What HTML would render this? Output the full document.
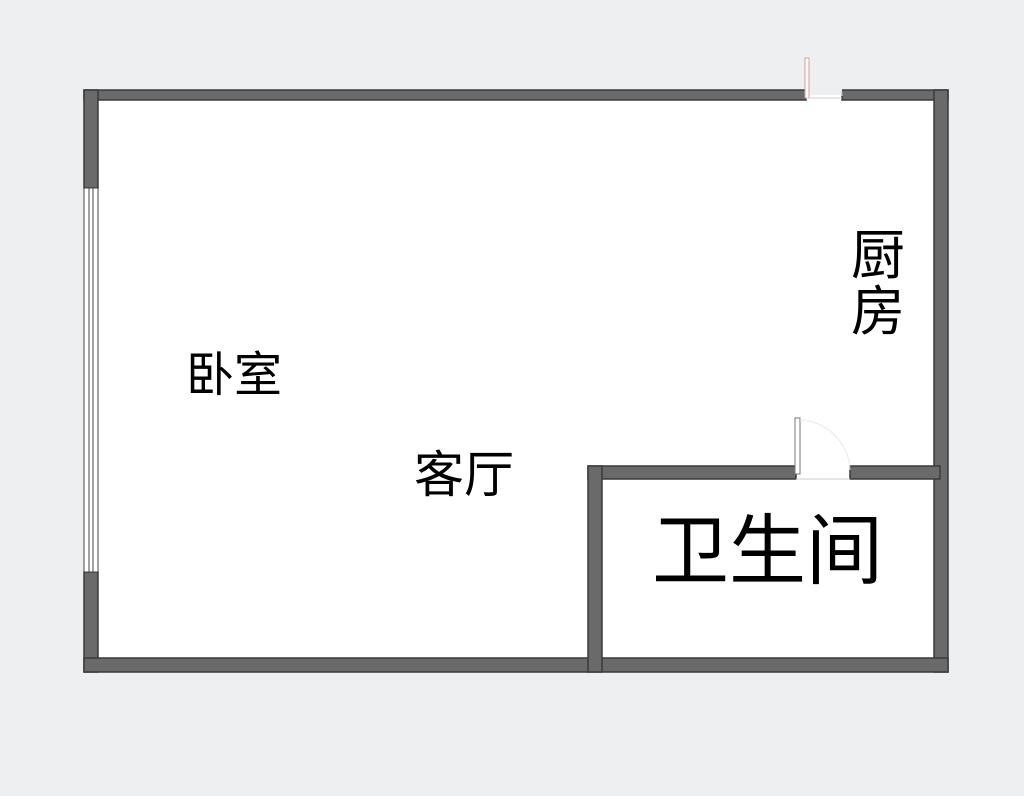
<!DOCTYPE html>
<html><head><meta charset="utf-8"><style>
body{margin:0;width:1024px;height:796px;background:#eeeff1;overflow:hidden;position:relative;font-family:"Liberation Sans","Noto Sans CJK SC",sans-serif;}
.t{position:absolute;color:#000;white-space:nowrap;line-height:1;}
</style></head><body>
<svg width="1024" height="796" style="position:absolute;left:0;top:0">
<rect x="91" y="95" width="850" height="570" fill="#ffffff"/>
<g fill="#6a6a6a" stroke="#3a3a3a" stroke-width="1.5">
<rect x="84" y="90" width="722" height="10"/>
<rect x="842" y="90" width="106" height="10"/>
<rect x="934" y="90" width="14" height="582"/>
<rect x="84" y="90" width="14" height="98"/>
<rect x="84" y="572" width="14" height="100"/>
<rect x="84" y="658" width="864" height="14"/>
<rect x="588" y="466" width="208" height="13"/>
<rect x="850" y="466" width="90" height="13"/>
<rect x="588" y="466" width="14" height="206"/>
</g>
<g fill="#fff" stroke="#444" stroke-width="1">
<rect x="84" y="188" width="14" height="384"/>
<line x1="89" y1="188" x2="89" y2="572"/>
<line x1="93" y1="188" x2="93" y2="572"/>
</g>
<rect x="805" y="58" width="4" height="40" fill="#fff" stroke="#d99" stroke-width="1"/>
<path d="M809 60 A36 36 0 0 1 842 96" fill="none" stroke="#eee" stroke-width="1"/>
<line x1="806" y1="98" x2="842" y2="98" stroke="#ccc"/>
<rect x="795" y="418" width="5" height="56" fill="#fff" stroke="#777" stroke-width="1"/>
<path d="M800 420 A52 52 0 0 1 850 470" fill="none" stroke="#e8e8e8" stroke-width="1"/>
<line x1="796" y1="479" x2="850" y2="479" stroke="#ccc"/>
</svg>
<div class="t" style="left:186px;top:352px;font-size:48px;">卧室</div>
<div class="t" style="left:414px;top:450px;font-size:50px;">客厅</div>
<div class="t" style="left:851px;top:228px;font-size:54px;width:56px;line-height:56px;white-space:normal;">厨房</div>
<div class="t" style="left:652px;top:514px;font-size:77px;">卫生间</div>
</body></html>
